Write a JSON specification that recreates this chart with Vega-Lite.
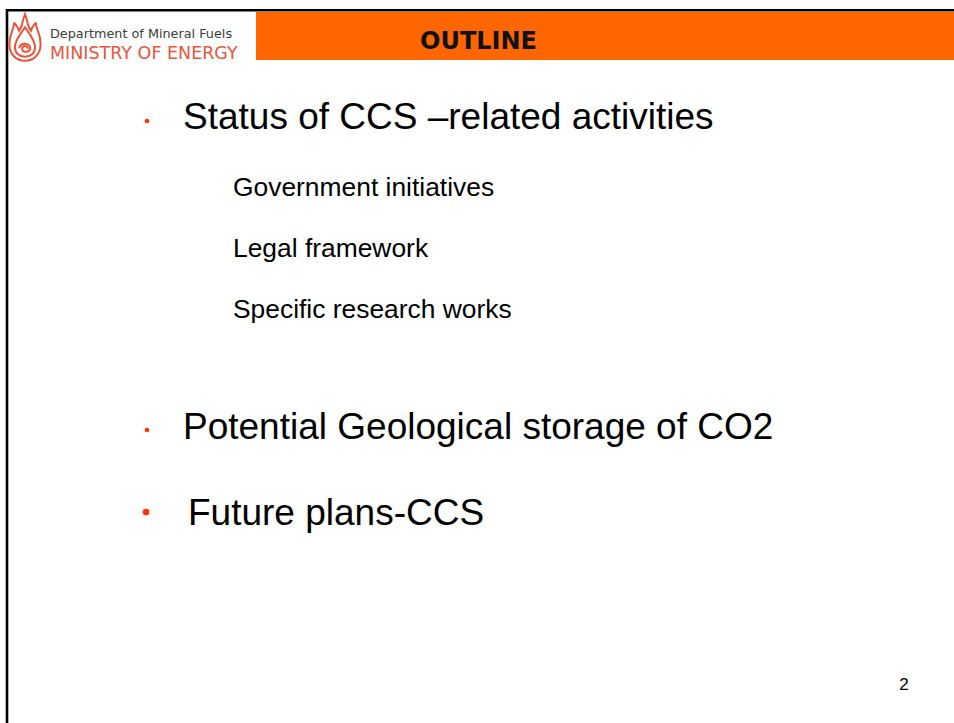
{
  "$schema": "https://vega.github.io/schema/vega-lite/v6.json",
  "width": 954,
  "height": 723,
  "padding": 0,
  "autosize": {"type": "none"},
  "background": "white",
  "config": {"view": {"stroke": null}},
  "datasets": {
    "banner": [{"x": 256, "x2": 954, "y": 12, "y2": 60}],
    "frame": [
      {"x": 7, "x2": 954, "y": 10.3, "y2": 10.3},
      {"x": 7, "x2": 7, "y": 9, "y2": 723}
    ],
    "title": [{"x": 478.5, "y": 49, "label": "OUTLINE"}],
    "dept": [{"x": 50, "y": 38, "label": "Department of Mineral Fuels"}],
    "ministry": [{"x": 50, "y": 59, "label": "MINISTRY OF ENERGY"}],
    "flame": [{"x": 25, "y": 38}],
    "bullets_small": [{"x": 147, "y": 121}, {"x": 147, "y": 430}],
    "bullets_big": [{"x": 146, "y": 512}],
    "headings": [
      {"x": 183, "y": 129, "label": "Status of CCS \u2013related activities"},
      {"x": 183, "y": 439, "label": "Potential Geological storage of CO2"},
      {"x": 188, "y": 525, "label": "Future plans-CCS"}
    ],
    "subs": [
      {"x": 233, "y": 196, "label": "Government initiatives"},
      {"x": 233, "y": 257, "label": "Legal framework"},
      {"x": 233, "y": 318, "label": "Specific research works"}
    ],
    "page": [{"x": 904, "y": 690, "label": "2"}]
  },
  "layer": [
    {
      "data": {"name": "banner"},
      "mark": {"type": "rect", "color": "#FF6600"},
      "encoding": {
        "x": {"field": "x", "type": "quantitative", "scale": {"domain": [0, 954], "nice": false, "zero": false}, "axis": null},
        "x2": {"field": "x2"},
        "y": {"field": "y", "type": "quantitative", "scale": {"domain": [0, 723], "nice": false, "zero": false, "reverse": true}, "axis": null},
        "y2": {"field": "y2"}
      }
    },
    {
      "data": {"name": "frame"},
      "mark": {"type": "rule", "color": "black", "strokeWidth": 2.6},
      "encoding": {
        "x": {"field": "x", "type": "quantitative", "axis": null},
        "x2": {"field": "x2"},
        "y": {"field": "y", "type": "quantitative", "axis": null},
        "y2": {"field": "y2"}
      }
    },
    {
      "data": {"name": "title"},
      "mark": {"type": "text", "font": "DejaVu Sans", "fontWeight": "bold", "fontSize": 24, "align": "center", "baseline": "alphabetic", "color": "#111111"},
      "encoding": {
        "x": {"field": "x", "type": "quantitative", "axis": null},
        "y": {"field": "y", "type": "quantitative", "axis": null},
        "text": {"field": "label"}
      }
    },
    {
      "data": {"name": "dept"},
      "mark": {"type": "text", "font": "DejaVu Sans", "fontSize": 12.8, "align": "left", "baseline": "alphabetic", "color": "#3a3a3a"},
      "encoding": {
        "x": {"field": "x", "type": "quantitative", "axis": null},
        "y": {"field": "y", "type": "quantitative", "axis": null},
        "text": {"field": "label"}
      }
    },
    {
      "data": {"name": "ministry"},
      "mark": {"type": "text", "font": "DejaVu Sans", "fontSize": 17.5, "align": "left", "baseline": "alphabetic", "color": "#E8553A"},
      "encoding": {
        "x": {"field": "x", "type": "quantitative", "axis": null},
        "y": {"field": "y", "type": "quantitative", "axis": null},
        "text": {"field": "label"}
      }
    },
    {
      "data": {"name": "flame"},
      "mark": {"type": "point", "filled": false, "stroke": "#E8553A", "strokeWidth": 2, "size": 2304, "opacity": 1,
        "shape": "M0,-1 C0.15,-0.6 0.1,-0.45 0.25,-0.3 C0.3,-0.5 0.4,-0.55 0.45,-0.65 C0.45,-0.35 0.65,-0.2 0.65,0.25 C0.65,0.7 0.35,0.95 0,0.95 C-0.35,0.95 -0.65,0.7 -0.65,0.25 C-0.65,-0.2 -0.45,-0.35 -0.45,-0.65 C-0.4,-0.55 -0.3,-0.5 -0.25,-0.3 C-0.1,-0.45 -0.15,-0.6 0,-1 Z M0,-0.45 C0.2,-0.15 0.42,0.1 0.42,0.38 C0.42,0.65 0.22,0.78 0,0.78 C-0.22,0.78 -0.42,0.65 -0.42,0.38 C-0.42,0.1 -0.2,-0.15 0,-0.45 Z M0.12,0.45 C0.12,0.3 -0.12,0.3 -0.12,0.45 C-0.12,0.62 0.2,0.62 0.22,0.42 C0.22,0.2 -0.2,0.15 -0.24,0.42"},
      "encoding": {
        "x": {"field": "x", "type": "quantitative", "axis": null},
        "y": {"field": "y", "type": "quantitative", "axis": null}
      }
    },
    {
      "data": {"name": "bullets_small"},
      "mark": {"type": "point", "shape": "circle", "filled": true, "color": "#FF3300", "size": 22, "opacity": 1},
      "encoding": {
        "x": {"field": "x", "type": "quantitative", "axis": null},
        "y": {"field": "y", "type": "quantitative", "axis": null}
      }
    },
    {
      "data": {"name": "bullets_big"},
      "mark": {"type": "point", "shape": "circle", "filled": true, "color": "#FF3300", "size": 45, "opacity": 1},
      "encoding": {
        "x": {"field": "x", "type": "quantitative", "axis": null},
        "y": {"field": "y", "type": "quantitative", "axis": null}
      }
    },
    {
      "data": {"name": "headings"},
      "mark": {"type": "text", "font": "Liberation Sans", "fontSize": 37, "align": "left", "baseline": "alphabetic", "color": "black"},
      "encoding": {
        "x": {"field": "x", "type": "quantitative", "axis": null},
        "y": {"field": "y", "type": "quantitative", "axis": null},
        "text": {"field": "label"}
      }
    },
    {
      "data": {"name": "subs"},
      "mark": {"type": "text", "font": "Liberation Sans", "fontSize": 26.4, "align": "left", "baseline": "alphabetic", "color": "black"},
      "encoding": {
        "x": {"field": "x", "type": "quantitative", "axis": null},
        "y": {"field": "y", "type": "quantitative", "axis": null},
        "text": {"field": "label"}
      }
    },
    {
      "data": {"name": "page"},
      "mark": {"type": "text", "font": "Liberation Sans", "fontSize": 17, "align": "center", "baseline": "alphabetic", "color": "black"},
      "encoding": {
        "x": {"field": "x", "type": "quantitative", "axis": null},
        "y": {"field": "y", "type": "quantitative", "axis": null},
        "text": {"field": "label"}
      }
    }
  ]
}
